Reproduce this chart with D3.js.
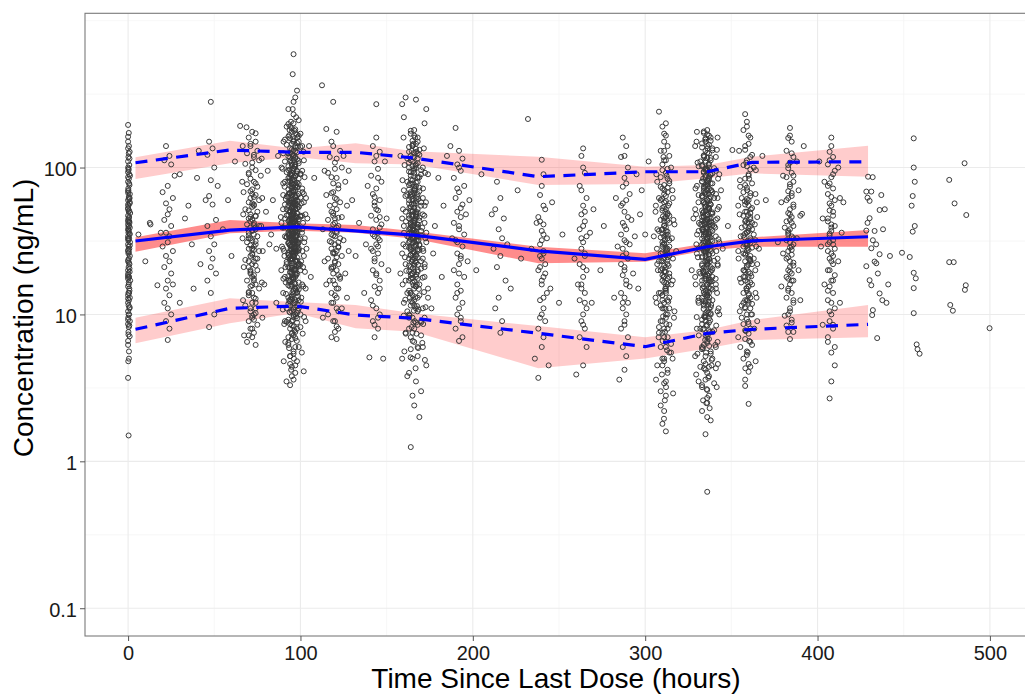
<!DOCTYPE html>
<html><head><meta charset="utf-8">
<script src="https://cdn.jsdelivr.net/npm/d3@7"></script>
<style>
body{margin:0;background:#fff;}
text{font-family:"Liberation Sans",Arial,Helvetica,sans-serif;}
</style>
</head><body>
<svg id="chart" width="1025" height="695"></svg>
<script>
// ---------------- tick labels ----------------
const xTicks = [0, 100, 200, 300, 400, 500];
const xMinor = [50, 150, 250, 350, 450];
const yTicks = [0.1, 1, 10, 100];
const yTickLabels = ["0.1", "1", "10", "100"];
const yMinor = [0.316, 3.16, 31.6, 316, 1000];
const xTitle = "Time Since Last Dose (hours)";
const yTitle = "Concentration (ng/mL)";

// ---------------- VPC summary (bin times and quantiles) ----------------
const binTime   = [4.3, 59, 97.7, 132, 166, 238, 300, 336, 362, 429.3];
const medianObs = [31.6, 37.5, 39.5, 37.1, 34.7, 27.1, 23.7, 28.9, 31.7, 33.8];
const medianLo  = [26.7, 35.7, 37.1, 36.0, 32.8, 22.3, 22.8, 27.4, 28.9, 28.9];
const medianHi  = [33.5, 43.9, 41.7, 40.6, 36.8, 28.9, 26.1, 30.5, 33.5, 37.5];
const upperObs  = [107.8, 131.6, 126.9, 126.9, 116.1, 86.6, 93.6, 93.6, 108.5, 109.5];
const upperLo   = [83.5, 106.8, 118, 106.8, 105, 76.0, 77.2, 84.4, 91.3, 86.6];
const upperHi   = [117.3, 152.2, 135, 146.1, 129, 118.4, 101.3, 104.0, 118.4, 140.7];
const lowerObs  = [7.92, 11.0, 11.41, 9.91, 9.41, 7.44, 6.03, 7.44, 7.92, 8.56];
const lowerLo   = [6.36, 8.70, 10.22, 8.04, 7.62, 4.30, 5.02, 5.87, 6.69, 6.98];
const lowerHi   = [9.50, 12.87, 12.15, 11.59, 10.17, 8.34, 6.98, 7.83, 9.16, 11.59];

// ---------------- observed data [time, concentration] ----------------
const obs0 = [[0,195],[0.4,172],[0,162],[0,150],[0.9,128],[0.2,118],[0,110],[0.7,104],[0.3,98],[0,93],[1.1,88],[0.5,84],[0,80],[0.8,76],[0.1,72],[0,69],[1,66],[0.4,63],[0,60],[0.9,57],[0.2,55],[0,53],[0.6,51],[1.2,49],[0,47],[0.3,45],[0.1,44],[0.8,42],[0,41],[0.5,40],[1,39],[0,38],[0.4,37],[0.2,36],[0.9,35],[0,34],[0.6,33],[0.1,32],[1.1,31],[0,30],[0.3,29],[0.7,28],[0,27],[0.2,26],[1,25],[0.5,24],[0,23],[0.8,22],[0.3,21],[0,20],[0.9,19.5],[0.1,19],[0.6,18],[0,17.5],[1.2,17],[0.4,16],[0,15.5],[0.7,15],[0.2,14],[0,13.5],[1,13],[0.5,12.5],[0,12],[0.3,11.5],[0.8,11],[0,10.5],[0.6,10],[0.1,9.5],[1,9],[0,8.6],[0.4,8.2],[0.2,7.6],[0.9,7.1],[0,6.6],[0.5,5.6],[0.1,4.8],[0,3.7],[0.3,1.5],[0.6,46],[0,52],[1,58],[0.2,70],[0.7,90],[0,100],[0.4,125],[0.9,35.5],[0.1,27.5],[0.5,22.5],[0,18.5],[0.8,14.5],[0.3,32.5],[0,43],[0.6,61],[0.2,39.5],
 [0.5,140],[0,135],[0.8,115],[0.3,96],[0,86],[0.6,78],[0.1,67],[0.9,62],[0,56],[0.4,50],[0.7,43],[0.2,37.5],[0,33],[1,29.5],[0.5,26.5],[0.1,23.5],[0.8,20.5],[0,18],[0.4,16.5],[0.6,14],[0,12.8],[0.9,11.2],[0.3,10],[0,9.2],[0.7,8.4],[0.2,7.3],[0,6.2],[0.5,5]];
const obs24 = [[22,140],[24,120],[21,112],[25,105],[23,75],[20,68],[26,62],[22,57],[24,52],[23,48],[21,44],[25,40],[22,36],[24,34],[23,31],[20,29],[26,27],[22,25],[24,23],[21,21],[25,19],[23,17],[22,15],[24,13.5],[21,12],[23,11],[25,10],[22,9],[24,8],[23,6.7],[27,88],[19,36],[26,16]];
const obsEarly = [[33,45],[37,30],[42,22],[30,90],[45,60],[38,15],[35,55],[55,38],[58,60],[60,25],[41,130],[13,41],[10,23],[6,35],[12.6,42],[17,15.8],[40,85],[30,12],[65,192],[68.7,188],[62,110]];
const obs48 = [[48,280],[47,150],[49,135],[46,122],[50,100],[48,82],[52,75],[47,64],[49,56],[51,44],[46,40],[48,34],[50,30],[47,27],[49,24],[48,21],[51,19],[46,17],[48,14],[50,10],[47,8.2]];
const obs72 = [[74,171],[72,175],[70,160],[74,150],[71,140],[75,130],[69,125],[73,118],[76,112],[68,106],[72,100],[74,96],[70,92],[77,88],[71,84],[73,80],[69,77],[75,74],[72,71],[67,68],[74,65],[71,62],[76,60],[70,58],[73,56],[72,54],[68,52],[75,50],[71,48],[74,47],[70,45],[72,44],[73,42],[69,41],[76,40],[71,39],[74,38],[72,37],[70,36],[73,35],[75,34],[71,33],[72,32],[69,31],[74,30],[73,29],[70,28],[76,27],[72,26],[71,25],[74,24],[68,23.5],[73,23],[72,22],[70,21],[75,20],[71,19],[73,18.5],[72,18],[69,17],[74,16],[71,15.5],[76,15],[72,14],[70,13.5],[73,13],[72,12],[68,11.5],[74,11],[71,10.5],[73,10],[72,9.5],[70,9],[75,8.5],[71,8],[73,7.5],[72,7],[69,6.5],[74,6.2],[72,66],[73,55],[71,46],[74,39],[70,33],[72,28],[75,24],[71,20],[73,17],[70,14],[74,12],[72,9.8],[80,50],[82,30],[79,16],[81,95],
 [71,145],[73,122],[72,108],[70,90],[74,78],[71,69],[73,63],[72,57],[70,51],[74,46.5],[71,43],[73,40.5],[72,37.5],[70,34.5],[74,31.5],[71,29.5],[73,27.5],[72,25.5],[70,23],[74,21.5],[71,19.5],[73,17.5],[72,15.8],[70,14.2],[74,12.8],[71,11],[73,9.2],[72,8],[70,7.2],[74,10.2],
 [66.5,140],[77.5,115],[66.2,80],[77.8,62],[66.8,48],[77.2,40],[66.4,33],[78.1,27],[67.1,21],[77.6,16.5],[66.7,12.5],[77.9,9.5],[67.3,7.2]];
const obs96 = [[96,200],[94,190],[97,182],[95,175],[98,168],[93,162],[96,156],[99,150],[95,145],[97,140],[94,135],[96,131],[98,127],[95,123],[93,119],[97,116],[96,113],[94,110],[99,107],[95,104],[97,101],[96,98],[93,96],[98,94],[95,92],[94,90],[97,88],[96,86],[99,84],[95,82],[93,80],[97,78],[96,76],[94,75],[98,73],[95,72],[97,70],[96,69],[94,67],[99,66],[95,65],[93,63],[97,62],[96,61],[98,60],[94,59],[95,58],[97,57],[96,56],[93,55],[99,54],[95,53],[97,52],[94,51],[96,50],[98,49],[95,48],[93,47.5],[97,47],[96,46],[94,45],[99,44.5],[95,44],[97,43],[96,42],[98,41.5],[94,41],[95,40],[93,39.5],[97,39],[96,38.5],[99,38],[94,37.5],[95,37],[97,36.5],[96,36],[98,35.5],[93,35],[95,34.5],[97,34],[94,33.5],[96,33],[99,32.5],[95,32],[97,31.5],[96,31],[93,30.5],[98,30],[94,29.5],[95,29],[97,28.5],[96,28],[99,27.5],[94,27],[95,26.5],[97,26],[93,25.5],[96,25],[98,24.5],[95,24],[94,23.5],[97,23],[96,22.5],[99,22],[95,21.5],[93,21],[97,20.5],[96,20],[94,19.5],[98,19],[95,18.5],[97,18],[96,17.5],[93,17],[99,16.5],[95,16],[94,15.5],[97,15],[96,14.5],[98,14],[95,13.5],[93,13],[97,12.5],[96,12],[94,11.5],[99,11],[95,10.5],[97,10],[96,9.6],[93,9.2],[98,8.8],[95,8.4],[94,8],[97,7.6],[96,7.2],[95,6.8],[93,6.4],[97,6],[96,5.6],[94,5.2],[98,4.8],[95,4.4],[97,4],[96,3.6],[94,3.3],
 [96,591],[95.5,432],[98,334],[97,300],[96,280],[93,250],[96,230],[99,210],[92,190],[100,170],[91,155],[101,140],[90,125],[102,112],[89,100],[100,90],[91,80],[101,72],[90,65],[102,58],[92,52],[100,47],[89,42],[101,38],[91,34],[99,31],[90,28],[102,25],[92,22],[100,20],[91,18],[101,16],[90,14],[99,12.5],[92,11],[100,10],[91,9],[98,8],[93,7],[99,6],[94,5.2],[97,4.5],[95,3.8],
 [95,78.5],[97,64],[94,57.5],[96,52.5],[98,45.5],[95,42.5],[97,40.5],[93,37.8],[96,35.2],[94,33.2],[98,31.2],[95,29.2],[97,27.2],[96,25.8],[94,23.8],[99,22.2],[95,20.2],[97,18.8],[96,17.2],[93,15.8],[98,14.2],[95,12.8],[97,11.2],[96,9.9],[94,8.6],[95,68],[97,55],[96,49],[94,43.5],[98,36.8],[95,34],[97,30.2],[96,26.8],[93,24.2],[99,21.2],[95,19.2],[97,16.2],[96,13.8],[94,12.2],[98,10.2],
 [84,60],[86,28],[87,120],[104,45],[106,18],[108,85],[105,140],[103,9],[86,12],[83,35]];
const obs96b = [[93,198],[95,185],[97,171],[99,164],[94,158],[96,152],[98,147],[92,143],[100,138],[95,133],[97,129],[93,125],[96,121],[94,117],[98,114],[99,111],[95,108],[97,105],[93,102],[96,99],[94,97],[98,95],[92,93],[100,91],[95,89],[97,87],[93,85],[96,83],[94,81],[98,79],[99,77],[95,74.5],[97,73.5],[93,71],[96,68],[94,66.5],[98,64.5],[92,63.5],[100,62.5],[95,61.5],[97,59.5],[93,58.5],[96,57],[94,56.5],[98,55.5],[99,54],[95,53.5],[97,52],[93,51],[96,50.5],[94,49.5],[98,48.5],[92,47.2],[100,46.2],[95,45.2],[97,44.2],[93,43.2],[96,42.2],[94,41.2],[98,40.2],[99,39.2],[95,38.2],[97,37.2],[93,36.2],[96,35.8],[94,35.1],[98,34.2],[92,33.7],[100,32.8],[95,32.2],[97,31.8],[93,30.8],[96,30.2],[94,29.8],[98,28.8],[99,28.2],[95,27.8],[97,26.7],[93,26.2],[96,25.2],[94,24.8],[98,23.2],[92,22.8],[100,21.8],[95,20.8],[97,19.8],[93,18.2],[96,17.8],[94,16.8],[98,15.2],[99,14.8],[95,13.2],[97,12.2],[93,11.8],[96,10.8],[94,10.3],[98,9.4],[92,8.9],[100,8.2],[95,7.4],[97,6.9],[93,6.2],[96,5.4],[94,4.6],[95.5,120],[96.5,102],[94.5,88],[97.5,76],[93.5,67],[98.5,58.8],[95.5,50.8],[96.5,44.8],[94.5,39.8],[97.5,34.8],[93.5,30.6],[98.5,27],[95.5,23.6],[96.5,20.4],[94.5,17.4],[97.5,14.6],[93.5,12.4],[98.5,10.6],[95.5,9.1],[96.5,7.8],[95.5,250],[97.5,220],[94.5,205],[96.5,178],[93.5,166],[98.5,139],[91,110],[101,95],[90,78],[102,66],[91,56],[101,47],[89.5,39],[102.5,33],[90.5,27],[101.5,21],[91.5,16.5],[100.5,13]];
const obs96c = [[94.2,112],[96.8,104],[95.1,96],[97.9,91],[93.6,86],[96.3,82],[94.8,78],[98.4,74],[95.7,70],[93.2,66],[97.1,63],[94.4,60],[96.6,57.8],[95.2,55.2],[98.1,52.8],[93.9,50.2],[96.1,48.2],[94.7,46.8],[97.4,45.8],[95.4,44.6],[93.4,43.8],[96.9,42.8],[94.1,41.8],[97.8,40.8],[95.9,39.9],[93.7,38.9],[96.4,37.9],[94.6,36.9],[98.2,36.1],[95.3,35.3],[93.1,34.3],[97.2,33.9],[94.9,33.1],[96.2,32.1],[95.6,31.3],[98.7,30.4],[93.8,29.6],[96.7,28.7],[94.3,27.9],[97.6,27.1],[95.8,26.3],[93.3,25.4],[96.3,24.6],[94.5,23.9],[97.3,23.1],[95.1,22.3],[98.3,21.6],[93.9,20.9],[96.8,20.1],[94.2,19.3],[97.7,18.6],[95.5,17.9],[93.5,17.1],[96.4,16.4],[94.8,15.7],[97.1,14.9],[95.3,14.1],[98.6,13.3],[94.1,12.7],[96.6,11.9],[95.7,11.1],[93.6,10.4],[97.4,9.7],[94.9,9.0],[96.1,8.3],[95.2,7.5],[97.9,6.6],[93.4,5.9],[96.2,5.0],[94.6,4.2],[95.8,150],[97.3,136],[94.3,126],[96.9,118],[93.7,180],[98.2,160],
 [90.2,150],[101.8,128],[89.6,98],[102.4,86],[90.8,74],[101.2,68],[91.5,61],[100.6,57],[89.9,52],[102.9,48],[91.1,45],[101.5,42],[90.4,39],[100.9,36],[91.8,33.5],[102.2,31],[89.3,29],[101.1,27],[90.7,25],[100.4,23],[91.3,21],[102.6,19.5],[90.1,17.5],[101.7,15.5],[91.6,13.8],[100.2,12.2],[89.8,10.8],[102.1,9.6],[90.6,8.6],[101.3,7.4],[91.2,6.5],[100.8,5.5],[90.3,4.8],[101.9,4.1],[91.9,3.5],[103.2,62],[88.6,46],[103.5,28],[88.9,20],[103,15]];
const obs120 = [[112.5,363],[119,280],[115,183],[121,175],[118,150],[123,130],[117,118],[120,108],[124,100],[116,92],[121,85],[119,78],[122,72],[118,67],[120,62],[123,58],[117,55],[121,52],[119,49],[124,46],[116,44],[120,42],[122,40],[118,38],[121,36],[119,34.5],[123,33],[117,31.5],[120,30],[122,29],[118,28],[121,27],[119,26],[124,25],[116,24],[120,23],[122,22],[118,21],[121,20],[119,19],[123,18],[117,17],[120,16],[122,15],[118,14],[121,13],[119,12],[124,11],[116,10],[120,9],[122,8],[118,7],[121,6.8],[125,120],[114,95],[126,80],[115,65],[127,55],[120,45],[113,38],[125,32],[128,27],[114,23],[126,19],[115,16],[127,13],[121,11],[113,9.5],[119,47],[121,39],[118,35],[122,31],[120,26],[119,21],[123,17.5],[130,60],[132,25],[128,95],[134,42],
 [119,140],[121,115],[120,98],[118,86],[122,76],[119,68],[121,61],[120,56],[118,50],[122,45.5],[119,41],[121,37],[120,34],[118,31],[122,28.5],[119,26.5],[121,24.5],[120,22.5],[118,20.5],[122,18.5],[119,17],[121,15],[120,13.5],[118,12],[122,10.5],[119,9],[121,8.3],[120,7.6]];
const obs144 = [[144,270],[144,160],[142,140],[146,128],[143,110],[145,98],[141,88],[147,80],[144,72],[142,66],[146,60],[143,55],[145,51],[141,47],[144,44],[147,41],[142,38],[145,36],[143,34],[146,32],[144,30],[141,28],[145,26],[143,24],[147,22],[142,20],[144,18.5],[146,17],[143,15.5],[145,14],[141,12.5],[144,11],[146,10],[142,9],[145,8],[143,7],[140,5.1],[148,5.0],[139,75],[150,45],[138,30],[151,20],[149,110],[137,14],[144,52],[146,39],[143,63],[145,33],[142,27],
 [144,120],[145,85],[143,58],[146,46],[142,35],[145,29],[143,23],[144,19],[146,15],[142,11.5],[145,9.5],[143,8.5]];
const obs168 = [[166,180],[164,170],[168,160],[165,152],[167,145],[163,138],[169,132],[166,126],[164,120],[168,115],[165,110],[167,105],[163,100],[170,96],[166,92],[164,88],[168,85],[165,82],[167,79],[163,76],[169,73],[166,70],[164,68],[168,66],[165,64],[167,62],[163,60],[170,58],[166,56],[164,54],[168,52],[165,50],[167,48.5],[163,47],[169,45.5],[166,44],[164,42.5],[168,41],[165,40],[167,39],[163,38],[170,37],[166,36],[164,35],[168,34],[165,33],[167,32],[163,31],[169,30],[166,29],[164,28],[168,27],[165,26],[167,25],[163,24],[170,23],[166,22],[164,21],[168,20],[165,19],[167,18],[163,17],[169,16],[166,15],[164,14],[168,13],[165,12],[167,11],[163,10],[170,9],[166,8],[164,7],[168,6],[165,5],
 [167,47.5],[165,46.5],[166,43.5],[164,41.5],[168,39.5],[165,37.5],[167,35.5],[163,33.5],[166,31.5],[169,29.5],[164,27.5],[167,25.5],[165,23.5],[166,21.5],[168,19.5],[164,17.5],[167,15.5],[165,13.5],[166,11.5],[163,9.5],[168,8.5],[165,7.5],[166,74],[164,63],[167,57],[165,51],[169,86],[166,98],[163,108],[168,125],[165,140],
 [161,300],[167,290],[159,270],[173,250],[160,220],[172,200],[158,120],[174,90],[160,70],[172,55],[159,45],[173,36],[161,29],[171,24],[158,19],[174,15],[160,12],[172,9.5],[161,7.5],[171,6],[159,5],[173,4.5],[162,3.8],[170,3],[166,2.4],[164,1.25],
 [162,65],[171,48],[160,40],[173,31],[159,26],[172,21],[161,17],[174,13],[162,10.5],[170,8.8],[178,40],[180,85],[182,18],[185,120],[177,26],[183,55],[176,11]];
const obs168b = [[164,178],[166,165],[168,150],[165,142],[167,134],[163,128],[169,122],[166,117],[164,112],[168,107],[165,102],[167,99],[163,94],[170,90],[166,87],[164,83],[168,80],[165,77],[167,74.5],[163,71],[169,69],[166,67],[164,65],[168,63],[165,61],[167,59],[163,57],[170,55],[166,53],[164,51],[168,49.5],[165,48],[167,46.5],[163,45],[169,43.5],[166,42],[164,40.5],[168,39],[165,38],[167,36.5],[163,35.5],[170,34.5],[166,33.5],[164,32.5],[168,31.5],[165,30.5],[167,29.5],[163,28.5],[169,27.5],[166,26.5],[164,25.5],[168,24.5],[165,23.5],[167,22.5],[163,21.5],[170,20.5],[166,19.5],[164,18.5],[168,17.5],[165,16.5],[167,15.5],[163,14.5],[169,13.5],[166,12.5],[164,11.5],[168,10.5],[165,9.5],[167,8.8],[163,8],[170,7.2],[166,6.5],[164,5.8],[168,5.2],[165.5,95],[166.5,71],[164.5,56],[167.5,46],[163.5,38.5],[168.5,32],[165.5,27],[166.5,23],[164.5,19],[167.5,16],[163.5,13],[168.5,10.8],[165.5,8.8],[166.5,160],[164.5,130],[162,115],[171,100],[162,80],[171,62],[161,50],[172,42],[162,34],[171,28],[161,22],[172,18],[162,14],[171,11],[163,4],[167,3.5],[165,2.8],[169,2]];
const obs168c = [[165.2,118],[166.8,103],[164.1,93],[167.9,86],[163.6,78],[166.3,72],[164.8,66],[168.4,61],[165.7,57],[163.2,53],[167.1,49.8],[164.4,47],[166.6,44.8],[165.2,42.8],[168.1,40.8],[163.9,39],[166.1,37.4],[164.7,35.9],[167.4,34.4],[165.4,32.9],[163.4,31.6],[166.9,30.2],[164.1,28.9],[167.8,27.7],[165.9,26.4],[163.7,25.2],[166.4,24.1],[164.6,22.9],[168.2,21.8],[165.3,20.7],[163.1,19.7],[167.2,18.7],[164.9,17.7],[166.2,16.8],[165.6,15.8],[168.7,14.9],[163.8,14],[166.7,13.1],[164.3,12.3],[167.6,11.4],[165.8,10.6],[163.3,9.8],[166.3,9],[164.5,8.2],[167.3,7.4],[165.1,6.6],[168.3,5.9],[163.9,5.1],[166.8,4.3],[165.5,145],[167.2,128],
 [159.8,160],[171.6,135],[160.4,104],[172.3,92],[159.2,82],[171.1,72],[160.9,64],[172.8,58],[159.5,52],[171.9,47],[161.2,43],[170.6,39],[160.1,36],[172.5,33],[159.7,30],[171.3,27],[160.6,24.5],[172.1,22],[161.4,19.8],[170.9,17.8],[159.3,16],[171.7,14.2],[160.8,12.6],[172.6,11.2],[159.9,9.8],[171.2,8.6],[161.1,7.4],[170.7,6.4],[160.3,5.6],[172.2,4.9]];
const obs192 = [[190,186],[192,130],[194,115],[191,105],[193,95],[189,85],[195,75],[192,68],[190,62],[194,56],[191,50],[193,46],[189,42],[192,38],[195,35],[190,32],[194,29],[191,26],[193,24],[192,22],[189,20],[195,18],[191,16],[193,14.5],[190,13],[194,12],[192,11],[191,10],[193,9],[190,8],[194,7],[192,6.6],[196,48],[188,33],[197,23],[187,140],[198,60],[202,20],[205,90],
 [192,100],[191,72],[193,53],[192,40],[191,31],[193,25],[192,19],[191,14],[193,9.5]];
const obs216 = [[214,80],[216,62],[213,52],[218,45],[215,38],[217,33],[212,28],[216,25],[214,21],[219,17],[215,13],[213,11],[217,9],[216,7.5],[220,30],[211,48],[232,214],[226,70],[222,15],[228,24]];
const obs240 = [[240,113],[241,90],[239,65],[242,52],[238,46],[241,41],[240,37],[243,33],[239,30],[241,27],[240,24],[242,22],[238,20],[241,18],[240,16],[243,14],[239,12.5],[241,11],[240,10],[242,9],[238,8],[241,7],[240,6],[236,5],[244,4.5],[238,3.7],[241,35],[239,25],[242,19],[237,42],[245,15],[234,28],[246,58],[252,35],[250,12],
 [240,75],[241,55],[239,43],[240,32],[241,26],[239,21],[240,17],[241,13],[239,9.5]];
const obs264 = [[264,135],[263,120],[265,92],[262,75],[266,62],[264,55],[263,48],[265,43],[262,38],[266,34],[264,31],[263,28],[265,25],[262,22],[266,20],[264,18],[263,16],[265,14],[262,12.5],[266,11],[264,10],[263,9],[265,8],[262,7],[266,6],[264,4.5],[260,3.9],[268,36],[259,24],[270,52],[261,16],[269,12],[276,40],[274,20],
 [264,100],[263,70],[265,50],[264,40],[263,33],[265,26],[264,21],[263,15],[265,12],[264,8.5]];
const obs288 = [[287,160],[289,140],[286,118],[290,100],[288,85],[287,74],[291,66],[289,60],[286,55],[288,50],[290,46],[287,42],[289,38],[286,35],[288,32],[291,30],[287,28],[289,26],[290,24],[286,22],[288,20],[287,18.5],[289,17],[291,15.5],[286,14],[288,13],[290,12],[287,11],[289,10],[288,9],[286,8],[290,7],[287,6],[289,5.2],[288,4.2],[285,3.6],[292,44],[284,29],[293,19],[283,62],[294,34],[282,13],[295,90],[298,70],[300,35],[296,15],[302,110],[297,48],
 [288,120],[289,78],[287,57],[288,40],[289,31],[287,25],[288,21],[289,16],[287,12],[288,8.5]];
const obs312 = [[308,240],[310,190],[312,165],[311,150],[313,140],[309,130],[314,120],[311,112],[310,105],[313,98],[312,92],[309,86],[314,81],[311,76],[310,72],[313,68],[312,64],[309,60],[314,57],[311,54],[310,51],[313,48],[312,46],[309,44],[314,42],[311,40],[310,38],[313,36.5],[312,35],[309,33.5],[314,32],[311,30.5],[310,29],[313,28],[312,27],[309,26],[314,25],[311,24],[310,23],[313,22],[312,21],[309,20],[314,19],[311,18],[310,17],[313,16],[312,15],[309,14],[314,13],[311,12],[310,11],[313,10],[312,9.5],[309,9],[314,8.5],[311,8],[310,7.5],[313,7],[312,6.5],[309,6],[314,5.5],[311,5],[310,4.5],[313,4],[312,3.5],[309,3],[311,2.2],[310,1.8],[312,1.6],[315,100],[307,80],[316,62],[306,50],[317,41],[305,34],[318,27],[307,22],[316,17],[306,13],[317,10.5],[308,8.2],[315,6.3],[311,45],[312,37],[310,31],[313,24.5],[311,19.5],[312,15.5],[310,12.5],[313,73],[311,58],[312,52],[311,34],[313,26],[310,20.5],[312,14],[309,11.5],
 [311,130],[312,112],[310,96],[313,84],[309,74],[311,66],[312,59],[310,53],[313,49],[311,43],[312,39],[310,35.5],[313,33],[311,30],[312,28.5],[310,26.5],[313,23.5],[311,21.5],[312,19.5],[310,18.5],[313,17.5],[311,16.5],[312,14.5],[310,13.5],[313,12.5],[311,11],[312,10],[310,9],[313,8],[311,7],[312,6],[310,5],[313,4.2],[311,3.4],[312,2.8],[309,2.4],[314,78],[308,62],[314,47],[308,37],[314,29],[308,23],[314,18],[308,14],[314,11],[308,7.5],[315,5.5],[307,4.5],[311,170],[312,200]];
const obs312c = [[310.6,118],[312.4,88],[311.2,70],[309.8,61],[313.3,55],[311.7,50],[310.3,46.5],[312.8,43.5],[311.1,40.5],[309.6,37.5],[313.1,34.8],[311.4,32.2],[310.2,29.8],[312.6,27.4],[311.9,25.3],[309.4,23.3],[313.6,21.4],[311.3,19.7],[310.7,18],[312.2,16.4],[311.6,14.9],[309.9,13.5],[313.4,12.2],[311.8,10.9],[310.4,9.7],[312.3,8.6],[311.5,7.6],[310.1,6.6],[312.7,5.7],[311,4.8],[309.7,3.9],[312.1,3.2],[311.4,2.6],[310.9,1.95],
 [306.5,90],[315.8,70],[306.2,55],[316.4,44],[307.1,38],[315.5,33],[306.8,28],[316.1,24],[307.4,20],[315.2,16],[306.6,12],[316.7,9.5],[307.8,7],[315.9,5],[306.3,3.6],[316.2,2.9]];
const obs336 = [[336,180],[334,172],[337,165],[335,158],[338,152],[333,146],[336,140],[339,135],[335,130],[337,125],[334,120],[336,116],[338,112],[335,108],[333,104],[337,100],[336,97],[334,94],[339,91],[335,88],[337,85],[336,82],[333,80],[338,78],[335,76],[334,74],[337,72],[336,70],[339,68],[335,66],[333,64],[337,62],[336,60],[334,58],[338,56],[335,54.5],[337,53],[336,51.5],[334,50],[339,48.5],[335,47],[333,46],[337,45],[336,44],[338,43],[334,42],[335,41],[337,40],[336,39],[333,38],[339,37],[335,36],[337,35],[334,34],[336,33],[338,32],[335,31],[333,30],[337,29],[336,28],[334,27],[339,26],[335,25],[337,24],[336,23],[333,22],[338,21],[335,20],[334,19.5],[337,19],[336,18.5],[339,18],[335,17.5],[333,17],[337,16.5],[336,16],[334,15.5],[338,15],[335,14.5],[337,14],[336,13.5],[333,13],[339,12.5],[335,12],[334,11.5],[337,11],[336,10.5],[338,10],[335,9.6],[333,9.2],[337,8.8],[336,8.4],[334,8],[339,7.6],[335,7.2],[337,6.8],[336,6.4],[333,6],[338,5.6],[335,5.2],[334,4.8],[337,4.4],[336,4],[335,3.6],[333,3.2],[337,2.8],[336,2.5],
 [335,98],[337,87],[336,77],[334,69],[338,63],[335,57],[337,52],[336,47.5],[333,43.5],[339,40.5],[335,38.5],[337,35.5],[336,33.5],[334,31.5],[338,29.5],[335,27.5],[337,25.5],[336,23.5],[333,21.5],[339,20.5],[335,18.2],[337,15.2],[336,13.2],[334,11.8],[338,10.2],[335,9],[337,7.8],[336,6.6],[333,5.8],[339,5],[335,4.2],[336,44.5],[334,36.5],[337,30.5],[335,26.5],[336,22.5],[338,17.2],[334,14.2],[337,12.2],[335,9.9],
 [330,175],[342,160],[329,140],[341,118],[331,102],[343,90],[330,75],[342,62],[329,52],[341,44],[331,37],[343,31],[330,26],[342,22],[329,18],[341,15],[331,12],[343,10],[330,8],[342,6.5],[329,5.2],[341,4.3],[331,3.5],[336,3.06],[335.5,2.49],[336,2],[335,1.53],[336,0.62],[344,70],[328,45],[345,28],[327,20],[350.6,131.6],[348,40]];
const obs336b = [[334,176],[336,168],[338,160],[335,150],[337,143],[333,137],[339,131],[336,126],[334,121],[338,116],[335,111],[337,106],[333,102],[340,99],[336,95],[334,92],[338,89],[335,86],[337,83],[333,80.5],[339,78],[336,75],[334,72.5],[338,70],[335,68],[337,66],[333,64],[340,62],[336,60],[334,58],[338,56],[335,54],[337,52.5],[333,51],[339,49.5],[336,48],[334,46.5],[338,45],[335,43.8],[337,42.5],[333,41.2],[340,40],[336,38.8],[334,37.6],[338,36.4],[335,35.2],[337,34],[333,32.8],[339,31.6],[336,30.4],[334,29.2],[338,28],[335,26.8],[337,25.6],[333,24.4],[340,23.2],[336,22],[334,20.8],[338,19.6],[335,18.4],[337,17.2],[333,16],[339,14.8],[336,13.6],[334,12.4],[338,11.2],[335,10.2],[337,9.4],[333,8.6],[340,7.8],[336,7],[334,6.2],[338,5.4],[335,4.6],[337,3.8],[333,3.3],[336,2.7],[335.5,98],[336.5,81],[334.5,67],[337.5,57],[333.5,49],[338.5,42],[335.5,36],[336.5,31],[334.5,27],[337.5,23],[333.5,19.8],[338.5,16.8],[335.5,14],[336.5,11.6],[334.5,9.6],[337.5,7.6],[333.5,5.9],[338.5,4.5],[332,110],[341,95],[331,65],[342,52],[332,41],[341,34],[331,28],[342,24],[332,19],[341,16],[331,13],[342,10.5],[332,8],[341,6],[332,4.4],[340,3.4],[333,2.2],[338,1.9]];
const obs336c = [[334.2,118],[336.8,104],[335.1,96],[337.9,90],[333.6,84],[336.3,79],[334.8,74],[338.4,70],[335.7,66],[333.2,62.5],[337.1,59],[334.4,56],[336.6,53.5],[335.2,51],[338.1,48.8],[333.9,46.6],[336.1,44.6],[334.7,42.8],[337.4,41],[335.4,39.4],[333.4,37.8],[336.9,36.3],[334.1,34.8],[337.8,33.4],[335.9,32],[333.7,30.7],[336.4,29.4],[334.6,28.2],[338.2,27],[335.3,25.9],[333.1,24.8],[337.2,23.8],[334.9,22.8],[336.2,21.8],[335.6,20.9],[338.7,20],[333.8,19.1],[336.7,18.3],[334.3,17.5],[337.6,16.7],[335.8,15.9],[333.3,15.1],[336.3,14.4],[334.5,13.7],[337.3,13],[335.1,12.3],[338.3,11.6],[333.9,10.9],[336.8,10.3],[334.2,9.7],[337.7,9.1],[335.5,8.5],[333.5,7.9],[336.4,7.3],[334.8,6.7],[337.1,6.1],[335.3,5.5],[338.6,4.9],[334.1,4.3],[336.6,3.7],[335.7,3.1],[333.6,2.6],[337.4,2.3],[334.9,155],[336.1,135],
 [329.8,150],[341.6,132],[330.4,108],[342.3,84],[329.2,72],[341.1,66],[330.9,58],[342.8,54],[329.5,48],[341.9,45],[331.2,42],[340.6,39],[330.1,35],[342.5,32.5],[329.7,30],[341.3,27],[330.6,24.5],[342.1,21.5],[331.4,19.5],[340.9,17.5],[329.3,16],[341.7,14],[330.8,12.4],[342.6,11],[329.9,9.6],[341.2,8.4],[331.1,7.2],[340.7,6.2],[330.3,5.4],[342.2,4.6],[329.6,3.9],[341.5,3.2]];
const obs360 = [[358,231],[359,205],[357,180],[361,160],[360,145],[358,132],[362,122],[359,112],[357,104],[361,97],[360,90],[358,84],[362,78],[359,73],[357,68],[361,64],[360,60],[358,56],[362,53],[359,50],[357,47],[361,44.5],[360,42],[358,40],[362,38],[359,36],[357,34.5],[361,33],[360,31.5],[358,30],[362,28.5],[359,27],[357,26],[361,25],[360,24],[358,23],[362,22],[359,21],[357,20],[361,19],[360,18],[358,17],[362,16],[359,15],[357,14],[361,13],[360,12],[358,11],[362,10],[359,9.3],[357,8.6],[361,8],[360,7.4],[358,6.8],[362,6.2],[359,5.6],[357,5],[361,4.4],[360,4.07],[358,3.26],[360,2.46],[363,100],[355,82],[364,66],[354,55],[365,46],[356,39],[364,32],[354,27],[365,22],[355,17.5],[364,14],[356,11.5],[365,9],[354,7],[359,58],[361,49],[358,43],[360,37],[359,29.5],[361,23.5],[358,19.5],[360,15.5],[359,12.5],[368,120],[366,28],[370,60],
 [359,190],[360,165],[358,140],[361,118],[359,102],[360,88],[358,76],[361,67],[359,61],[360,55],[358,50],[361,46],[359,42],[360,38.5],[358,35.5],[361,32],[359,30],[360,27.5],[358,25.5],[361,23],[359,21.5],[360,19.5],[358,18],[361,16.5],[359,14.5],[360,13.5],[358,12.5],[361,11],[359,10],[360,8.6],[358,7.8],[361,6.5],[359,5.3],[360,4.6],[358,3.6],[357,29],[362,42],[356,62],[363,35],[357,18],[362,11.8],[356,9.5],[363,24],[357,12]];
const obs360c = [[358.6,108],[360.3,84],[359.2,70],[357.8,59],[361.3,52],[359.7,47.5],[358.3,43.5],[360.8,39.8],[359.1,36.5],[357.6,33.5],[361.1,30.8],[359.4,28.3],[358.2,26],[360.6,23.8],[359.9,21.8],[357.4,19.9],[361.6,18.2],[359.3,16.6],[358.7,15.1],[360.2,13.8],[359.6,12.4],[357.9,11.2],[361.4,10],[359.8,8.9],[358.4,7.7],[360.3,6.6],[359.5,5.5],[358.1,4.3],
 [354.5,130],[364.2,96],[355.1,74],[364.8,58],[354.8,48],[363.6,41],[355.4,34],[364.4,29],[354.2,24],[363.9,20],[355.7,16.5],[364.6,13],[354.9,10.5],[363.3,8],[355.2,6],[364.1,4.8]];
const obs384 = [[384,186],[383,159],[385,150],[382,130],[386,118],[384,108],[383,99],[385,92],[382,86],[386,80],[384,74],[383,69],[385,64],[382,60],[386,56],[384,52],[383,49],[385,46],[382,43],[386,40],[384,38],[383,36],[385,34],[382,32],[386,30],[384,28.5],[383,27],[385,25.5],[382,24],[386,22.5],[384,21],[383,20],[385,19],[382,18],[386,17],[384,16],[383,15],[385,14],[382,13],[386,12],[384,11],[383,10],[385,9.2],[382,8.4],[386,7.6],[384,6.8],[388,110],[380,88],[389,70],[379,58],[390,47],[381,39],[388,33],[380,26],[389,20],[379,15.5],[390,12.5],[381,9.8],[384,44],[383,35],[385,29],[384,23],[383,17.5],[392,140],[377,31],[391,48.4],
 [384,165],[385,125],[383,104],[386,88],[384,77],[385,67],[383,62],[386,54],[384,48],[385,42],[383,37],[386,33],[384,31],[385,27.5],[383,24.5],[386,21.5],[384,19.5],[385,17],[383,14.5],[386,12.5],[384,10.5],[385,8.8],[383,7.6]];
const obs408 = [[408,160],[407,128],[409,118],[406,105],[410,95],[408,86],[407,78],[409,72],[406,66],[410,60],[408,55],[407,51],[409,47],[406,43],[410,40],[408,37],[407,34.5],[409,32],[406,30],[410,28],[408,26],[407,24],[409,22],[406,20],[410,18.5],[408,17],[407,15.5],[409,14],[406,12.5],[410,11],[408,10],[407,9],[409,8],[406,7],[410,6],[408,5.5],[407,2.68],[412,100],[404,80],[413,62],[403,45],[414,36],[402,29],[412,23],[404,16],[413,12],[403,8.5],[408,41],[407,31],[409,25],[415,58],[401,110],
 [408,140],[407,112],[409,90],[406,75],[408,63],[407,57],[409,50],[406,45],[408,39],[407,35.5],[409,30],[406,27],[408,23],[407,20],[409,17],[406,14.5],[408,12],[407,10.5],[409,8.5],[406,6.5],[410,4.5],[408,3.5]];
const obs432 = [[429.3,86.6],[432,86],[431.2,68.6],[428.3,68.6],[429,62.3],[430.2,59.3],[436,51.4],[430.2,45.2],[428.3,37.2],[433.1,37],[432.1,32],[431.2,28.2],[436,25.7],[433.1,22.9],[428.3,21.3],[434.1,22.3],[430.2,17.1],[431.2,15.8],[436,13.9],[437.6,12.5],[432.1,10.7],[431.7,9.9],[434.6,6.9],[429,42],[434,30],[435,19],[437,65],[438,38],[440,12],[442,25],[439,52],[441,16]];
const obsLate = [[455.8,158],[455.8,100],[456.4,80],[455.2,64],[454.6,55],[456.4,40],[455.2,36.6],[449,26.3],[453.5,24.6],[455.8,19.2],[457,17.6],[455.8,15.1],[455.8,10.2],[457.5,6.25],[458,5.8],[459.2,5.4],
 [485.3,107],[476.4,82.4],[479.5,57],[486.3,47.5],[476.4,22.7],[479,22.7],[486,15.8],[485.5,14.7],[477,11.6],[478.5,10.6],[499.8,8.06]];

const observations = [].concat(obs0, obs24, obsEarly, obs48, obs72, obs96, obs96b, obs96c, obs120, obs144, obs168, obs168b, obs168c, obs192, obs216, obs240, obs264, obs288, obs312, obs312c, obs336, obs336b, obs336c, obs360, obs360c, obs384, obs408, obs432, obsLate);

// ---------------- layout ----------------
const svg = d3.select("#chart");
const W = 1025, H = 695;
const P = {left: 85, top: 13.3, right: 1033, bottom: 636};

svg.append("rect").attr("width", W).attr("height", H).attr("fill", "#fff");

const x = d3.scaleLinear().domain([-25, 525]).range([P.left, P.right]);
const y = d3.scaleLog().domain([0.0647, 1122]).range([P.bottom, P.top]);

svg.append("defs").append("clipPath").attr("id", "clip")
  .append("rect").attr("x", P.left).attr("y", P.top)
  .attr("width", P.right - P.left).attr("height", P.bottom - P.top);

// grid
const grid = svg.append("g");
grid.selectAll(".xmin").data(xMinor).join("line")
  .attr("x1", d => x(d)).attr("x2", d => x(d)).attr("y1", P.top).attr("y2", P.bottom)
  .attr("stroke", "#f4f4f4").attr("stroke-width", 0.7);
grid.selectAll(".ymin").data(yMinor).join("line")
  .attr("y1", d => y(d)).attr("y2", d => y(d)).attr("x1", P.left).attr("x2", P.right)
  .attr("stroke", "#f4f4f4").attr("stroke-width", 0.7);
grid.selectAll(".xmaj").data(xTicks).join("line")
  .attr("x1", d => x(d)).attr("x2", d => x(d)).attr("y1", P.top).attr("y2", P.bottom)
  .attr("stroke", "#ebebeb").attr("stroke-width", 1.1);
grid.selectAll(".ymaj").data(yTicks).join("line")
  .attr("y1", d => y(d)).attr("y2", d => y(d)).attr("x1", P.left).attr("x2", P.right)
  .attr("stroke", "#ebebeb").attr("stroke-width", 1.1);

const plot = svg.append("g").attr("clip-path", "url(#clip)");

// bands
function bandData(lo, hi) { return binTime.map((t, i) => ({t, lo: lo[i], hi: hi[i]})); }
const area = d3.area().x(d => x(d.t)).y0(d => y(d.lo)).y1(d => y(d.hi));
plot.append("path").datum(bandData(upperLo, upperHi)).attr("d", area).attr("fill", "#ff0000").attr("fill-opacity", 0.2);
plot.append("path").datum(bandData(lowerLo, lowerHi)).attr("d", area).attr("fill", "#ff0000").attr("fill-opacity", 0.2);
plot.append("path").datum(bandData(medianLo, medianHi)).attr("d", area).attr("fill", "#ff0000").attr("fill-opacity", 0.45);

// points
plot.append("g").selectAll("circle").data(observations).join("circle")
  .attr("cx", d => x(d[0])).attr("cy", d => y(d[1])).attr("r", 2.5)
  .attr("fill", "none").attr("stroke", "#3a3a3a").attr("stroke-width", 1);

// lines
const line = d3.line().x(d => x(d.t)).y(d => y(d.v));
function lineData(v) { return binTime.map((t, i) => ({t, v: v[i]})); }
plot.append("path").datum(lineData(medianObs)).attr("d", line).attr("fill", "none")
  .attr("stroke", "#0000ff").attr("stroke-width", 3.2);
plot.append("path").datum(lineData(upperObs)).attr("d", line).attr("fill", "none")
  .attr("stroke", "#0000ff").attr("stroke-width", 3.2).attr("stroke-dasharray", "12,8.5");
plot.append("path").datum(lineData(lowerObs)).attr("d", line).attr("fill", "none")
  .attr("stroke", "#0000ff").attr("stroke-width", 3.2).attr("stroke-dasharray", "12,8.5");

// border
svg.append("rect").attr("x", P.left).attr("y", P.top).attr("width", P.right - P.left).attr("height", P.bottom - P.top)
  .attr("fill", "none").attr("stroke", "#7a7a7a").attr("stroke-width", 1.1);

// axes
const xAxis = d3.axisBottom(x).tickValues(xTicks).tickSize(5).tickPadding(3).tickFormat(d3.format("d"));
const gx = svg.append("g").attr("transform", `translate(0,${P.bottom})`).call(xAxis);
gx.select(".domain").remove();
gx.selectAll("line").attr("stroke", "#555");
gx.selectAll("text").attr("font-size", 20).attr("fill", "#1a1a1a")
  .attr("font-family", '"Liberation Sans",Arial,sans-serif').attr("dy", null).attr("y", 23.5);

const yAxis = d3.axisLeft(y).tickValues(yTicks).tickSize(5).tickFormat((d, i) => yTickLabels[i]);
const gy = svg.append("g").attr("transform", `translate(${P.left},0)`).call(yAxis);
gy.select(".domain").remove();
gy.selectAll("line").attr("stroke", "#555");
gy.selectAll("text").attr("font-size", 20).attr("fill", "#1a1a1a")
  .attr("font-family", '"Liberation Sans",Arial,sans-serif').attr("x", -8).attr("dy", "8.3");

// titles
svg.append("text").attr("x", 556).attr("y", 688).attr("text-anchor", "middle")
  .attr("font-size", 28).attr("fill", "#000").text(xTitle);
svg.append("text").attr("transform", "translate(33,318) rotate(-90)").attr("text-anchor", "middle")
  .attr("font-size", 28).attr("fill", "#000").text(yTitle);
</script>
</body></html>
